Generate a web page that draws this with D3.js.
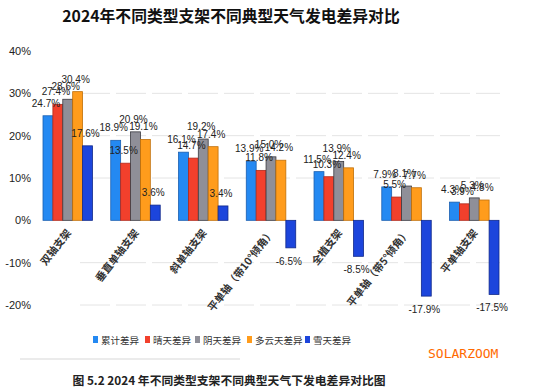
<!DOCTYPE html>
<html><head><meta charset="utf-8">
<script src="https://cdn.jsdelivr.net/npm/d3@7"></script>
<style>
body{margin:0;background:#fff;}
svg{display:block;}
</style></head>
<body>
<svg id="c" width="557" height="392"></svg>
<script>
const categories = ["双轴支架","垂直单轴支架","斜单轴支架","平单轴（带10°倾角）","全植支架","平单轴（带5°倾角）","平单轴支架"];
const seriesNames = ["累计差异","晴天差异","阴天差异","多云天差异","雪天差异"];
const cumulative = [24.7,18.9,16.1,13.9,11.5,7.9,4.3];
const sunny = [27.4,13.5,14.7,11.8,10.3,5.5,3.9];
const overcast = [28.6,20.9,19.2,15.0,13.9,8.1,5.3];
const cloudy = [30.4,19.1,17.4,14.2,12.4,7.7,4.8];
const snow = [17.6,3.6,3.4,-6.5,-8.5,-17.9,-17.5];
const yTicks = [40,30,20,10,0,-10,-20];
const colors = ["#2489f2","#f2402c","#8f8f98","#ff9c1c","#1c45dc"];
const strokes = ["#1a5fb0","#b02a1c","#3a3a40","#c0700a","#10288a"];

const series = [cumulative,sunny,overcast,cloudy,snow];
const svg = d3.select("#c");
const num = "'Liberation Sans Narrow','Arial Narrow','Liberation Sans',sans-serif";
const cjk = "'Noto Sans CJK SC','Noto Sans',sans-serif";

const y = d3.scaleLinear().domain([-20,40]).range([305,51]);
const x0 = d3.scaleBand().domain(categories).range([43,499]).paddingInner(0.27).paddingOuter(0.0);
const x1 = d3.scaleBand().domain(d3.range(5)).range([0,x0.bandwidth()]).padding(0);

// title
svg.append("text").attr("x",231).attr("y",22).attr("text-anchor","middle")
  .attr("font-family",cjk).attr("font-weight","bold").attr("font-size",15.8).attr("fill","#111")
  .text("2024年不同类型支架不同典型天气发电差异对比");

// gridlines
svg.append("g").selectAll("line").data(yTicks.filter(d=>d!==0 && d!==40)).join("line")
  .attr("x1",80).attr("x2",500).attr("y1",d=>y(d)).attr("y2",d=>y(d))
  .attr("stroke","#e4e4e4").attr("stroke-width",1).attr("stroke-dasharray","30,6");

// y axis tick labels
const yAxis = d3.axisLeft(y).tickValues(yTicks).tickFormat(d=>d+"%").tickSize(0).tickPadding(0);
const ga = svg.append("g").attr("transform","translate(31,0)").call(yAxis);
ga.select(".domain").remove();
ga.selectAll("text").attr("font-family",num).attr("font-size",11).attr("fill","#222");

// bars
const groups = svg.append("g").selectAll("g").data(categories).join("g")
  .attr("transform",c=>`translate(${x0(c)},0)`);
series.forEach((vals,si)=>{
  groups.append("rect")
    .attr("x",x1(si)).attr("width",x1.bandwidth())
    .attr("y",(c,i)=>y(Math.max(0,vals[i])))
    .attr("height",(c,i)=>Math.abs(y(vals[i])-y(0)))
    .attr("fill",colors[si]).attr("stroke",strokes[si]).attr("stroke-width",0.8);
});
// value labels
series.forEach((vals,si)=>{
  groups.append("text")
    .attr("x",x1(si)+x1.bandwidth()/2-2)
    .attr("y",(c,i)=>vals[i]>=0 ? y(vals[i])-9 : y(vals[i])+17)
    .attr("text-anchor","middle")
    .attr("font-family",num).attr("font-size",10).attr("fill","#222")
    .text((c,i)=>vals[i].toFixed(1)+"%");
});

// category labels
svg.append("g").selectAll("text").data(categories).join("text")
  .attr("transform",c=>`translate(${x0(c)+x0.bandwidth()/2+4},233) rotate(-52)`)
  .attr("text-anchor","end")
  .attr("font-family",cjk).attr("font-weight","bold").attr("font-size",10.5).attr("fill","#333")
  .text(c=>c);

// legend
const legX = [93,145,195,247,305];
const leg = svg.append("g").selectAll("g").data(seriesNames).join("g")
  .attr("transform",(d,i)=>`translate(${legX[i]},340)`);
leg.append("rect").attr("x",0).attr("y",-4).attr("width",5).attr("height",7)
  .attr("fill",(d,i)=>colors[i]);
leg.append("text").attr("x",8).attr("y",3.5).attr("font-family",cjk).attr("font-size",9.5).attr("fill","#333")
  .text(d=>d);

// faint separator
svg.append("line").attr("x1",20).attr("x2",240).attr("y1",359).attr("y2",359)
  .attr("stroke","#d8d8d8").attr("stroke-width",1.2);

// watermark
svg.append("text").attr("x",428).attr("y",358).attr("font-family","'DejaVu Sans Mono',monospace")
  .attr("font-size",13).attr("fill","#ff6a00").text("SOLARZOOM");

// caption
svg.append("text").attr("x",229).attr("y",385).attr("text-anchor","middle")
  .attr("font-family",cjk).attr("font-weight","bold").attr("font-size",11.8).attr("fill","#222")
  .text("图 5.2  2024 年不同类型支架不同典型天气下发电差异对比图");
</script>
</body></html>
